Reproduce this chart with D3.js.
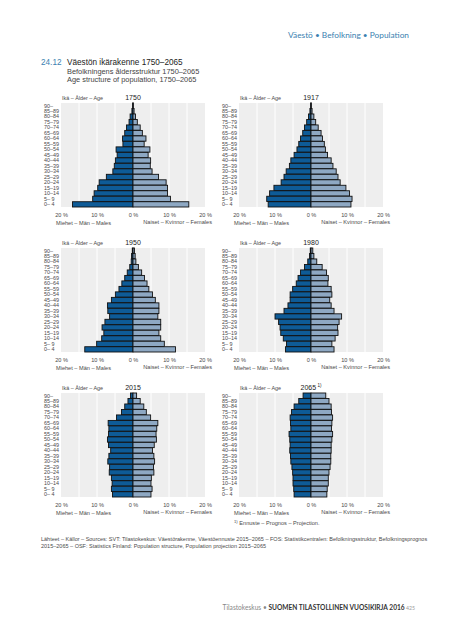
<!DOCTYPE html>
<html><head><meta charset="utf-8">
<script src="https://cdn.jsdelivr.net/npm/d3@7"></script>
<style>
html,body{margin:0;padding:0;background:#fff;}
svg{display:block;font-family:"Liberation Sans",Arial,sans-serif;}
</style></head>
<body>
<svg id="c" width="450" height="640"></svg>
<script>
// Age groups, top to bottom
const ages = ["90–","85–89","80–84","75–79","70–74","65–69","60–64","55–59","50–54","45–49","40–44","35–39","30–34","25–29","20–24","15–19","10–14","5– 9","0– 4"];
const years = ["1750","1917","1950","1980","2015","2065"];
const tickValues = [-20,-10,0,10,20];

const males1750   = [0.1,0.3,0.8,1.1,1.8,2.3,2.9,2.8,4.7,4.4,4.9,5.2,5.6,7.4,9.4,9.8,10.8,11.2,16.8];
const females1750 = [0.1,0.3,0.7,1.2,2.0,2.6,3.6,3.1,4.7,4.2,4.9,4.8,5.3,7.1,9.2,9.6,9.6,10.4,15.5];
const males1917   = [0.1,0.3,0.7,1.2,1.8,2.3,2.9,3.4,3.9,4.7,5.6,6.0,6.9,7.5,8.3,10.3,11.5,12.3,11.9];
const females1917 = [0.1,0.3,0.8,1.3,2.0,2.8,3.2,3.7,4.0,4.6,5.6,6.1,7.0,7.5,8.1,9.7,10.7,11.4,11.1];
const males1950   = [0.2,0.4,0.5,0.9,1.6,2.3,3.1,3.9,4.9,6.0,7.1,7.0,6.5,7.8,8.6,8.1,8.7,10.1,13.4];
const females1950 = [0.4,0.6,0.8,1.5,2.4,3.2,3.9,4.4,5.4,6.2,7.2,7.2,6.9,7.7,7.7,7.2,7.7,8.7,11.8];
const males1980   = [0.2,0.4,0.9,1.8,2.9,3.6,4.1,5.1,5.8,5.8,6.4,7.5,10.0,9.0,8.6,8.4,7.7,6.8,7.1];
const females1980 = [0.5,0.8,1.6,3.1,4.3,4.8,4.7,5.6,5.8,5.2,5.6,6.4,8.5,7.8,7.4,7.5,6.7,5.8,6.4];
const males2015   = [0.7,1.4,2.3,3.2,4.6,6.9,6.7,6.8,7.1,6.8,6.2,6.7,7.0,6.5,6.6,6.0,5.8,6.0,5.7];
const females2015 = [1.0,2.0,3.0,3.7,4.9,6.9,6.6,6.4,6.5,5.9,5.4,5.8,6.0,5.7,5.8,5.1,5.0,5.3,5.0];
const males2065   = [2.2,3.4,4.7,5.4,5.8,5.7,5.6,6.1,5.9,5.8,5.9,5.7,5.6,5.3,5.1,5.0,5.0,4.8,4.7];
const females2065 = [4.1,5.0,5.6,5.7,6.0,5.8,5.7,6.0,5.8,5.6,5.6,5.5,5.5,5.3,5.0,4.8,4.8,4.5,4.4];

const maleSeries = [males1750,males1917,males1950,males1980,males2015,males2065];
const femaleSeries = [females1750,females1917,females1950,females1980,females2015,females2065];

const svg = d3.select("#c");
const C_M = "#0e5b97", C_F = "#8ea8c3", C_TXT = "#4a4a4a", C_BLUE = "#3b7fb0";

// Header
svg.append("text").attr("x",409).attr("y",38).attr("text-anchor","end")
  .attr("font-family","Lato, 'Open Sans', sans-serif").attr("font-size",8.3).attr("fill",C_BLUE)
  .text("Väestö • Befolkning • Population");

svg.append("text").attr("x",41).attr("y",65).attr("font-size",8.2).attr("fill",C_BLUE).text("24.12");
svg.append("text").attr("x",67).attr("y",65).attr("font-size",8.2).attr("fill","#222").text("Väestön ikärakenne 1750–2065");
svg.append("text").attr("x",67).attr("y",73.5).attr("font-size",7.4).attr("fill","#444").text("Befolkningens åldersstruktur 1750–2065");
svg.append("text").attr("x",67).attr("y",82).attr("font-size",7.4).attr("fill","#444").text("Age structure of population, 1750–2065");

function panel(i){
  const col = i % 2, row = Math.floor(i/2);
  const cx = 133 + col*178;
  const top = 103 + row*145, bottom = 207 + row*145;
  const g = svg.append("g");
  const x = d3.scaleLinear().domain([-20,20]).range([cx-72, cx+72]);
  const y = d3.scaleBand().domain(ages).range([top,bottom]).paddingInner(0.04);

  g.append("rect").attr("x",x(-20)).attr("y",top).attr("width",x(20)-x(-20)).attr("height",bottom-top).attr("fill","#eeeeee");
  g.selectAll("line.grid").data([-15,-10,-5,0,5,10,15]).join("line")
    .attr("x1",d=>x(d)).attr("x2",d=>x(d)).attr("y1",top).attr("y2",bottom)
    .attr("stroke","#fff").attr("stroke-width",1);

  const m = maleSeries[i], f = femaleSeries[i];
  g.selectAll("rect.m").data(ages).join("rect")
    .attr("x",(d,k)=>x(-m[k])).attr("y",d=>y(d)).attr("width",(d,k)=>x(0)-x(-m[k])).attr("height",y.bandwidth())
    .attr("fill",C_M).attr("stroke","#111").attr("stroke-width",0.9);
  g.selectAll("rect.f").data(ages).join("rect")
    .attr("x",x(0)).attr("y",d=>y(d)).attr("width",(d,k)=>x(f[k])-x(0)).attr("height",y.bandwidth())
    .attr("fill",C_F).attr("stroke","#111").attr("stroke-width",0.9);

  // age labels
  g.selectAll("text.age").data(ages).join("text")
    .attr("x",cx-89).attr("y",d=>y(d)+y.bandwidth()/2).attr("dy","0.35em")
    .attr("font-size",5.4).attr("fill",C_TXT).attr("xml:space","preserve").text(d=>d);

  // x axis
  const ax = g.append("g").attr("transform",`translate(0,${bottom+3})`)
    .call(d3.axisBottom(x).tickValues(tickValues).tickSize(0).tickFormat(d=>Math.abs(d)+" %"));
  ax.select(".domain").remove();
  ax.selectAll("text").attr("font-size",5.6).attr("fill",C_TXT).attr("font-family","Liberation Sans, Arial, sans-serif");

  g.append("text").attr("x",cx-71).attr("y",top-3).attr("font-size",5.4).attr("fill",C_TXT).text("Ikä – Ålder – Age");
  const yt = g.append("text").attr("x",cx).attr("y",top-3).attr("text-anchor","middle").attr("font-size",7).attr("fill","#222").text(years[i]);
  if(years[i]==="2065"){
    yt.append("tspan").attr("font-size",4.5).attr("dy",-3).text(" 1)");
  }
  g.append("text").attr("x",cx-77).attr("y",bottom+18).attr("font-size",5.6).attr("fill",C_TXT).text("Miehet – Män – Males");
  g.append("text").attr("x",cx+79).attr("y",bottom+17).attr("text-anchor","end").attr("font-size",5.6).attr("fill",C_TXT).text("Naiset – Kvinnor – Females");
}
for(let i=0;i<6;i++) panel(i);

// Footnote
const fn = svg.append("text").attr("x",234).attr("y",525).attr("font-size",5.6).attr("fill",C_TXT);
fn.append("tspan").attr("font-size",4.2).attr("dy",-2).text("1)");
fn.append("tspan").attr("dy",2).text(" Ennuste – Prognos – Projection.");

svg.append("text").attr("x",41).attr("y",541).attr("font-size",5.5).attr("fill",C_TXT)
  .text("Lähteet – Källor – Sources: SVT: Tilastokeskus: Väestörakenne, Väestöennuste 2015–2065 – FOS: Statistikcentralen: Befolkningsstruktur, Befolkningsprognos");
svg.append("text").attr("x",41).attr("y",548).attr("font-size",5.5).attr("fill",C_TXT)
  .text("2015–2065 – OSF: Statistics Finland: Population structure, Population projection 2015–2065");

// Footer
const ft = svg.append("text").attr("x",415).attr("y",610).attr("text-anchor","end")
  .attr("font-family","Lato, 'Open Sans', sans-serif").attr("font-size",6.6);
ft.append("tspan").attr("fill","#888").text("Tilastokeskus • ");
ft.append("tspan").attr("fill","#333").attr("font-weight","bold").text("SUOMEN TILASTOLLINEN VUOSIKIRJA 2016");
ft.append("tspan").attr("fill","#999").attr("font-size",5.2).text("   425");
</script>
</body></html>
